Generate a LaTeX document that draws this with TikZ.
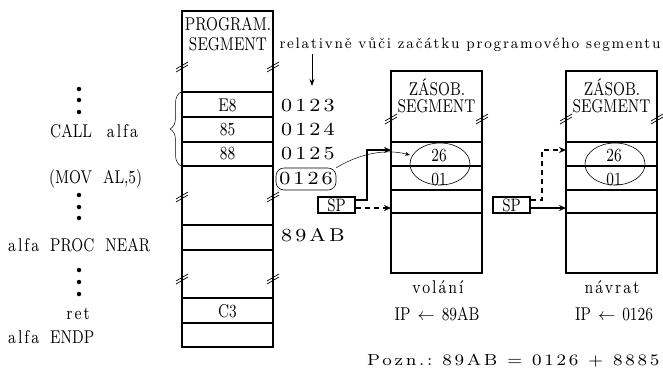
\documentclass[tikz,border=0pt]{standalone}
\usepackage{fontspec}
\setmainfont[Extension=.otf,FakeStretch=0.78]{lmroman8-regular}
\newfontfamily\fdig[Extension=.otf,FakeStretch=1.12,LetterSpace=17]{lmroman8-regular}
\newfontfamily\frel[Extension=.otf,FakeStretch=0.95,LetterSpace=12]{lmroman8-regular}
\newfontfamily\flow[Extension=.otf,FakeStretch=0.8,LetterSpace=11]{lmroman8-regular}
\usetikzlibrary{arrows.meta,decorations.pathreplacing,calc}
\newcommand\wsp{\hspace{11pt}}
\newcommand\lw[1]{{\flow #1}}
\begin{document}
\begin{tikzpicture}[x=1pt,y=-1pt,
  t/.style={font=\fontsize{18.5}{21}\selectfont, inner sep=0pt, anchor=base},
  box/.style={line width=1.6pt},
  hl/.style={line width=1.1pt},
  thk/.style={line width=1.6pt},
  ar/.style={-{Stealth[length=7pt,width=6pt]}, line width=1.2pt},
  dashline/.style={dash pattern=on 5pt off 4pt},
  brk/.pic={\draw[line width=0.7pt] (-6,4)--(6,-3) (-6,7)--(6,0);},
  dot/.style={circle, fill, inner sep=0pt, minimum size=4.5pt},
  spbox/.style={draw, line width=1.1pt, inner sep=0pt, minimum width=37pt, minimum height=16pt, font=\fontsize{18}{20}\selectfont},
]
\useasboundingbox (0,0) rectangle (663,368);

% ---------- program segment ----------
\draw[box] (182,347) -- (182,11) -- (273,11) -- (273,347) -- cycle;
\foreach \y in {92,117,142,225,250,298,323} \draw[hl] (182,\y) -- (273,\y);
\draw[thk] (182,166) -- (273,166);
\foreach \y in {65,195,277} { \pic at (182,\y) {brk}; \pic at (273,\y) {brk}; }
\node[t] (pg1) at (228,30) {PROGRAM.};
\node[t] (pg2) at (228,50) {SEGMENT};
\node[t] (e8) at (227.5,111) {E8};
\node[t] (c85) at (227.5,135) {85};
\node[t] (c88) at (227.5,159) {88};
\node[t] (c3) at (227.5,317) {C3};

% addresses
\node[t, anchor=base west] (a1) at (281,111) {\fdig 0123};
\node[t, anchor=base west] (a2) at (281,135) {\fdig 0124};
\node[t, anchor=base west] (a3) at (281,159) {\fdig 0125};
\node[t, draw, line width=0.6pt, rounded corners=8pt, minimum width=60pt, minimum height=22pt, anchor=center] (a4) at (306,179) {\fdig 0126};
\node[t, anchor=base west] (a5) at (281,241) {\fdig 89AB};

% top note
\node[anchor=base, inner sep=0pt, font=\fontsize{15}{18}\selectfont] (rel) at (470,48) {\frel relativně vůči začátku programového segmentu};
\coordinate (relb) at (312,86);
\draw[-{Stealth[length=7pt,width=5pt]}, line width=0.7pt] (312,54) -- (relb);

% ---------- left column ----------
\foreach \y in {89,100,112,195,207,218,270,282,294} \node[dot] at (79,\y) {};
\node[t, anchor=base west] (call) at (50,137) {CALL\hspace{15pt}\lw{alfa}};
\node[t, anchor=base west] (mov) at (49,183) {(MOV\wsp AL,5)};
\node[t, anchor=base west] (proc) at (8,251) {\lw{alfa}\wsp PROC\wsp NEAR};
\node[t] (ret) at (78,319) {\lw{ret}};
\node[t, anchor=base west] (endp) at (8,343) {\lw{alfa}\wsp ENDP};
\draw[decorate, decoration={brace, amplitude=11pt}, line width=0.5pt] (181,166) -- (181,92);

% ---------- stack segments ----------
\foreach \L/\n in {391/s, 566/r} {
  \draw[box] (\L,273) -- (\L,71) -- (\L+91,71) -- (\L+91,273) -- cycle;
  \draw[hl] (\L,142) -- (\L+91,142);
  \draw[thk] (\L,166) -- (\L+91,166);
  \draw[thk] (\L,190) -- (\L+91,190);
  \draw[hl] (\L,213) -- (\L+91,213);
  \pic at (\L,117) {brk}; \pic at (\L+91,117) {brk};
  \node[t] (\n z) at (\L+46,95) {ZÁSOB.};
  \node[t] (\n g) at (\L+45.5,112) {SEGMENT};
  \node[t] (\n a) at (\L+48,161) {26};
  \node[t] (\n b) at (\L+48,185) {01};
  \draw[line width=0.6pt] (\L+49,164) ellipse [x radius=30, y radius=21];
}

% SP boxes
\node[spbox] (sp1) at (336.5,205) {SP};
\node[spbox] (sp2) at (511.5,205) {SP};

% volani connectors
\coordinate (s1top) at (391,150);
\coordinate (s1sp) at (391,208);
\draw[ar] (sp1.east |- 0,200) -- (367,200) -- (367,150) -- (s1top);
\draw[ar, dashline] (sp1.east |- 0,208) -- (s1sp);
% navrat connectors
\coordinate (s2top) at (566,150);
\coordinate (s2sp) at (566,208);
\draw[ar, dashline] (sp2.east |- 0,200) -- (542,200) -- (542,150) -- (s2top);
\draw[ar] (sp2.east |- 0,208) -- (s2sp);

% curve from 0126 to 26
\coordinate (c26) at (410,155);
\draw[-{Stealth[length=5pt,width=4pt]}, line width=0.5pt] (a4.north east) .. controls (352,158) and (380,147) .. (c26);

% captions
\node[t] (vol) at (438,293) {\lw{volání}};
\node[t] (ip1) at (437,320) {IP\hspace{7pt}$\leftarrow$\hspace{7pt}89AB};
\node[t] (nav) at (612,293) {\lw{návrat}};
\node[t] (ip2) at (614,320) {IP\hspace{7pt}$\leftarrow$\hspace{7pt}0126};
\node[anchor=base west, inner sep=0pt, font=\fontsize{16}{18}\selectfont] (pozn) at (367,365) {\fdig Pozn.:\hspace{10pt}89AB\hspace{10pt}=\hspace{10pt}0126\hspace{10pt}+\hspace{10pt}8885};
\end{tikzpicture}
\end{document}
